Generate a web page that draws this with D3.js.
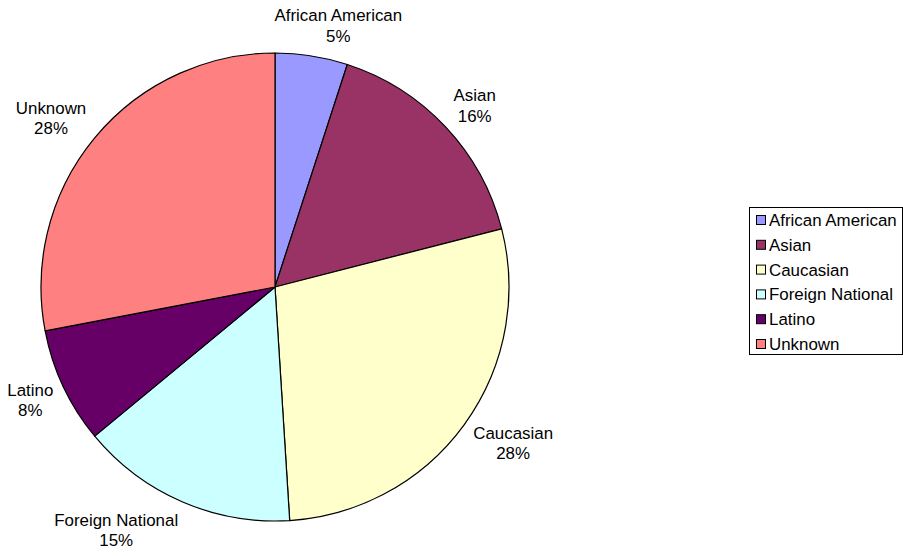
<!DOCTYPE html>
<html>
<head>
<meta charset="utf-8">
<script src="https://cdn.jsdelivr.net/npm/d3@7"></script>
<style>
  html, body { margin: 0; padding: 0; background: #fff; }
  svg { display: block; font-family: Arial, "Liberation Sans", sans-serif; }
</style>
</head>
<body>
<svg id="chart" width="903" height="556"></svg>
<script>
// Enrollment share by group (percent)
const categories = ["African American", "Asian", "Caucasian", "Foreign National", "Latino", "Unknown"];
const shares = [5, 16, 28, 15, 8, 28];
const colors = ["#9999FF", "#993366", "#FFFFCC", "#CCFFFF", "#660066", "#FF8080"];

const width = 903, height = 556;
const cx = 275, cy = 287, radius = 234;
const fontSize = 16.9, lineGap = 20.5;

const svg = d3.select("#chart");

const data = categories.map((c, i) => ({ name: c, value: shares[i], color: colors[i] }));

const pie = d3.pie().value(d => d.value).sort(null);
const arc = d3.arc().innerRadius(0).outerRadius(radius);
const arcs = pie(data);

const g = svg.append("g").attr("transform", `translate(${cx},${cy})`);

g.selectAll("path.slice")
  .data(arcs)
  .join("path")
  .attr("class", "slice")
  .attr("d", arc)
  .attr("fill", d => d.data.color)
  .attr("stroke", "#000")
  .attr("stroke-width", 1.2)
  .attr("stroke-linejoin", "round");

// Labels outside each slice: name on the first line, percentage on the second.
// Each label box hangs off an anchor point just beyond the rim, pushed outward
// along the slice's mid-angle.
const fmt = v => `${d3.format(".0f")(v)}%`;
const clamp = v => Math.max(-1, Math.min(1, v));
const anchorR = radius + 11;

const labels = g.selectAll("g.label")
  .data(arcs)
  .join("g")
  .attr("class", "label");

labels.each(function(d) {
  const sel = d3.select(this);
  const t = sel.append("text")
    .attr("text-anchor", "middle")
    .attr("font-size", fontSize)
    .attr("fill", "#000");
  t.append("tspan").attr("x", 0).attr("y", -lineGap / 2 + 6).text(d.data.name);
  t.append("tspan").attr("x", 0).attr("y", lineGap / 2 + 6).text(fmt(d.data.value));
  const box = this.getBBox();
  const w = box.width, h = 40;
  const a = (d.startAngle + d.endAngle) / 2;
  const ax = anchorR * Math.sin(a), ay = -anchorR * Math.cos(a);
  const x = ax + (w / 2) * clamp(2.5 * Math.sin(a));
  const y = ay + (h / 2) * (-Math.cos(a));
  sel.attr("transform", `translate(${x},${y})`);
});

// Legend
const legend = svg.append("g").attr("transform", "translate(749,207)");
legend.append("rect")
  .attr("x", 0.5).attr("y", 0.5)
  .attr("width", 153).attr("height", 147)
  .attr("fill", "#fff")
  .attr("stroke", "#000")
  .attr("stroke-width", 1);

const rowY = d3.scalePoint().domain(categories).range([13, 137]);

const items = legend.selectAll("g.item")
  .data(data)
  .join("g")
  .attr("class", "item")
  .attr("transform", d => `translate(0,${rowY(d.name)})`);

items.append("rect")
  .attr("x", 7.5).attr("y", -4.5)
  .attr("width", 9).attr("height", 9)
  .attr("fill", d => d.color)
  .attr("stroke", "#000")
  .attr("stroke-width", 1);

items.append("text")
  .attr("x", 20)
  .attr("y", 6)
  .attr("font-size", fontSize)
  .attr("fill", "#000")
  .text(d => d.name);
</script>
</body>
</html>
